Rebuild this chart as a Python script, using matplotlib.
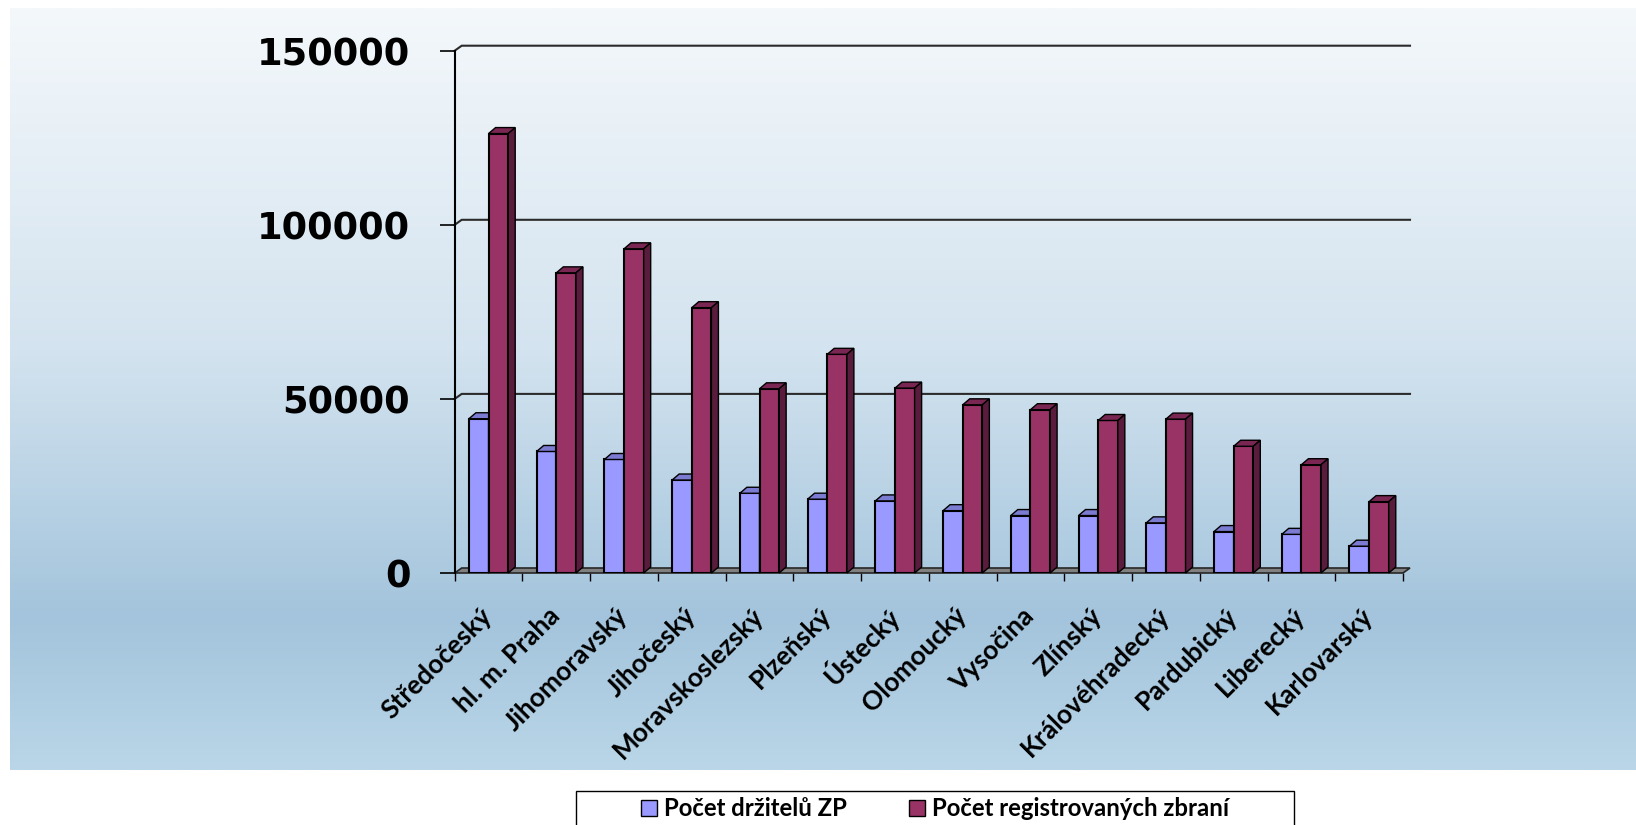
import numpy as np
import matplotlib
matplotlib.use("Agg")
import matplotlib.pyplot as plt
from matplotlib.patches import Polygon, Rectangle, Patch
from matplotlib.colors import LinearSegmentedColormap

kraje = ['Středočeský', 'hl. m. Praha', 'Jihomoravský', 'Jihočeský', 'Moravskoslezský',
         'Plzeňský', 'Ústecký', 'Olomoucký', 'Vysočina', 'Zlínský', 'Královéhradecký',
         'Pardubický', 'Liberecký', 'Karlovarský']
drzitele = [44300, 34900, 32600, 26700, 22900, 21200, 20700, 17900, 16500, 16500, 14400, 11900, 11100, 7700]
zbrane = [126200, 86200, 93100, 76200, 52900, 62800, 53100, 48300, 46900, 43800, 44200, 36400, 31100, 20500]
yticks = [0, 50000, 100000, 150000]
legend_labels = ['Počet držitelů ZP', 'Počet registrovaných zbraní']

W, H = 1636, 825
fig = plt.figure(figsize=(W / 100, H / 100), dpi=100)

# gradient background panel
bg = fig.add_axes([10 / W, 1 - 770 / H, 1 - 10 / W, 762 / H], zorder=0)
cmap = LinearSegmentedColormap.from_list('bg', [(0, '#f4f8fb'), (0.45, '#d3e3ef'),
                                                (0.8, '#a3c4dc'), (1, '#bad6e8')])
bg.imshow(np.linspace(0, 1, 256)[:, None], aspect='auto', cmap=cmap, extent=[0, 1, 0, 1])
bg.axis('off')

ax = fig.add_axes([454.7 / W, 1 - 573 / H, (1403 - 454.7) / W, (573 - 50.7) / H], zorder=1)
ax.patch.set_alpha(0)
x = np.arange(len(kraje))
ax.set_xlim(-0.5, len(kraje) - 0.5)
ax.set_ylim(0, 150000)

def shift(pts, dx, dy):
    disp = ax.transData.transform(pts) + np.array([dx, dy])
    return ax.transData.inverted().transform(disp)

x0, x1 = ax.get_xlim()

# back wall gridlines
for v in yticks[1:]:
    front = np.array([[x0, v]])
    back = shift(np.array([[x0, v], [x1, v]]), 7, 5)
    pts = np.vstack([front, back])
    ax.plot(pts[:, 0], pts[:, 1], color='#2b2b2b', lw=1.5, clip_on=False, zorder=1)

# floor
fl = np.array([[x0, 0], [x1, 0]])
floor = np.vstack([fl, shift(fl[::-1], 7, 5)])
ax.add_patch(Polygon(floor, closed=True, facecolor='#808080', edgecolor='#262626',
                     lw=1.2, clip_on=False, zorder=2))

w = 0.29
series = [(drzitele, x - w / 2, '#9999ff', '#7b7bd1', '#5c5c9e'),
          (zbrane, x + w / 2, '#993366', '#7a2652', '#5a1c3c')]
z = 3
for i in range(len(kraje)):
    for vals, xs, front_c, top_c, side_c in series:
        v = vals[i]
        xl, xr = xs[i] - w / 2, xs[i] + w / 2
        ax.bar(xs[i], v, width=w, color=front_c, edgecolor='black', lw=1.5, zorder=z)
        top = np.array([[xl, v], [xr, v]])
        top = np.vstack([top, shift(top[::-1], 7, 6)])
        side = np.array([[xr, v], [xr, 0]])
        side = np.vstack([side, shift(side[::-1], 7, 6)])
        ax.add_patch(Polygon(top, closed=True, facecolor=top_c, edgecolor='black',
                             lw=1.0, clip_on=False, zorder=z))
        ax.add_patch(Polygon(side, closed=True, facecolor=side_c, edgecolor='black',
                             lw=1.0, clip_on=False, zorder=z))
        z += 0.01

for s in ['top', 'right', 'bottom']:
    ax.spines[s].set_visible(False)
ax.spines['left'].set_linewidth(1.5)
ax.spines['left'].set_zorder(5)

ax.set_yticks(yticks)
ax.set_yticklabels([str(t) for t in yticks], fontsize=26.5, fontweight='bold')
ax.tick_params(axis='y', length=11, width=1.2, pad=21, direction='out')

ax.set_xticks(x)
ax.set_xticks(np.arange(-0.5, len(kraje), 1), minor=True)
ax.tick_params(axis='x', which='major', length=0, pad=28)
ax.tick_params(axis='x', which='minor', length=6, width=1, direction='out')
ax.set_xticklabels(kraje, rotation=45, ha='right', va='center', rotation_mode='anchor',
                   fontsize=19, fontweight='bold', family=['Lato', 'DejaVu Sans'])

# legend box
fig.patches.append(Rectangle((576 / W, 1 - 830 / H), (1294 - 576) / W, 39.3 / H,
                             transform=fig.transFigure, facecolor='white',
                             edgecolor='black', lw=1, zorder=2))
handles = [Patch(facecolor='#9999ff', edgecolor='black'),
           Patch(facecolor='#993366', edgecolor='black')]
leg = fig.legend(handles, legend_labels, ncol=2, loc='center left',
                 bbox_to_anchor=(641 / W, 1 - 809 / H), frameon=False,
                 borderpad=0, borderaxespad=0, handlelength=0.66, handleheight=0.66,
                 handletextpad=0.3, columnspacing=2.6,
                 prop={'weight': 'bold', 'size': 17.2, 'family': ['Lato', 'DejaVu Sans']})
leg.set_zorder(3)

fig.savefig('out.png', dpi=100)
